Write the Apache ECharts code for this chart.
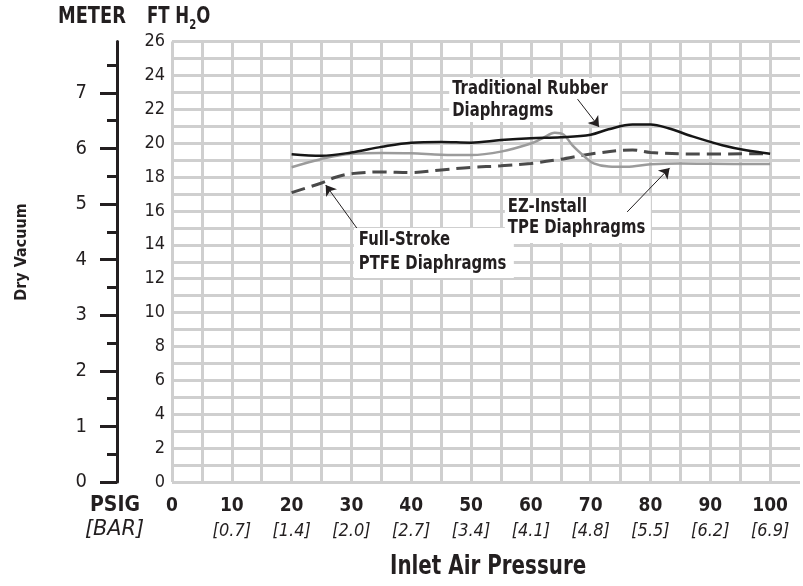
<!DOCTYPE html>
<html>
<head>
<meta charset="utf-8">
<script src="https://cdn.jsdelivr.net/npm/echarts@6/dist/echarts.min.js"></script>
<style>
html,body{margin:0;padding:0;background:#fff;}
#c{width:803px;height:586px;}
</style>
</head>
<body>
<div id="c"></div>
<script>
// ---- data (psig, ft H2O) ----
const psigTicks = [0,10,20,30,40,50,60,70,80,90,100];
const barLabels = ['', '[0.7]','[1.4]','[2.0]','[2.7]','[3.4]','[4.1]','[4.8]','[5.5]','[6.2]','[6.9]'];
const ftTicks = [0,2,4,6,8,10,12,14,16,18,20,22,24,26];
const meterTicks = [0,1,2,3,4,5,6,7];
const meterMinorTicks = [0.5,1.5,2.5,3.5,4.5,5.5,6.5,7.5];

const rubberX = [20,25,30,35,40,45,50,55,60,65,70,73,77,80,83,87,92,96,100];
const rubberY = [19.35,19.25,19.45,19.78,20.03,20.07,20.03,20.18,20.29,20.35,20.5,20.82,21.1,21.1,20.88,20.4,19.88,19.58,19.38];

const tpeX = [20,25,30,35,40,45,50,55,60,62,64,65.5,67,69,70.5,73,76,80,85,90,100];
const tpeY = [18.58,19.07,19.38,19.42,19.4,19.32,19.3,19.5,19.98,20.3,20.62,20.5,19.85,19.2,18.81,18.62,18.6,18.75,18.8,18.78,18.77];

const ptfeX = [20,25,27.5,30,35,40,45,50,55,60,65,70,77,80,87,100];
const ptfeY = [17.08,17.65,18.0,18.2,18.3,18.26,18.42,18.57,18.66,18.8,19.05,19.36,19.6,19.45,19.36,19.38];

// annotation texts and anchors (data space: top-left of the white box)
const noteTexts = ['Traditional Rubber\nDiaphragms', 'Full-Stroke\nPTFE Diaphragms', 'EZ-Install\nTPE Diaphragms'];
const noteAnchors = [[46.35,23.85],[30.4,14.99],[55.65,16.88]];
// arrows (data space: tail, head)
const arrowRubber = [[67.8,22.6],[71.4,20.96]];
const arrowPtfe = [[30.9,14.99],[25.7,17.53]];
const arrowTpe = [[76.1,15.94],[83.2,18.54]];

const FT_PER_M = 3.28084;
const NARROW = "'Liberation Sans Narrow','DejaVu Sans Condensed','Roboto Condensed',sans-serif";
const INK = '#231f20';
const GRID = '#cfcfcf';

// box styling for notes (pixels): [boxW, boxH, textDx, lineHeight]
const noteBoxes = [[171,44,3,22],[160,50,5,24],[146,47,3,21.5]];

function zip(xs, ys){ return xs.map((x,i)=>[x, ys[i]]); }
function arrowLine(a){ return [{coord: a[0]}, {coord: a[1]}]; }

// vertical grid lines: 0..105 every 5; the one at the clipped right edge is hidden
const vColors = [];
for (let i = 0; i < 21; i++) vColors.push(GRID);
vColors.push('rgba(0,0,0,0)');

const chart = echarts.init(document.getElementById('c'), null, {renderer:'canvas'});
chart.setOption({
  animation: false,
  backgroundColor: '#fff',
  grid: {left: 172, top: 41.5, height: 440.5, right: 0, containLabel: false},
  xAxis: {
    type: 'value', min: 0, max: 105, interval: 5,
    axisLine: {show: false}, axisTick: {show: false},
    splitLine: {show: true, lineStyle: {color: vColors, width: 3}},
    axisLabel: {
      margin: 12,
      formatter: function(v){
        const i = psigTicks.indexOf(v);
        if (i < 0) return '';
        return '{a|' + v + '}\n{b|' + (barLabels[i] || ' ') + '}';
      },
      rich: {
        a: {fontFamily: NARROW, fontWeight: 'bold', fontSize: 19, color: INK, lineHeight: 25},
        b: {fontFamily: NARROW, fontStyle: 'italic', fontSize: 18, color: INK, lineHeight: 25}
      }
    }
  },
  yAxis: [
    {
      type: 'value', min: 0, max: 26, interval: 1,
      axisLine: {show: false}, axisTick: {show: false},
      splitLine: {show: true, lineStyle: {color: GRID, width: 3}},
      axisLabel: {
        margin: 7, color: INK, fontFamily: NARROW, fontSize: 18,
        formatter: v => ftTicks.indexOf(v) >= 0 ? String(v) : ''
      }
    },
    {
      type: 'value', position: 'left', offset: 55, min: 0, max: 26 / FT_PER_M,
      axisLine: {show: true, onZero: false, lineStyle: {color: INK, width: 3}},
      axisTick: {show: true, length: 17, customValues: meterTicks, lineStyle: {color: INK, width: 3}},
      splitLine: {show: false},
      axisLabel: {show: true, customValues: meterTicks, margin: 30, color: INK, fontFamily: NARROW, fontSize: 20}
    },
    {
      type: 'value', position: 'left', offset: 55, min: 0, max: 26 / FT_PER_M,
      axisLine: {show: false},
      axisTick: {show: true, length: 10, customValues: meterMinorTicks, lineStyle: {color: INK, width: 3}},
      splitLine: {show: false},
      axisLabel: {show: false}
    }
  ],
  series: [
    {
      name: 'Traditional Rubber Diaphragms', type: 'line', smooth: 0.35, showSymbol: false, symbol: 'none',
      data: zip(rubberX, rubberY), z: 5,
      lineStyle: {color: '#161616', width: 2.5},
      markLine: {
        silent: true, symbol: ['none','arrow'], symbolSize: 10,
        lineStyle: {color: INK, width: 1, type: 'solid'}, label: {show: false},
        data: [arrowLine(arrowRubber), arrowLine(arrowPtfe), arrowLine(arrowTpe)]
      }
    },
    {
      name: 'EZ-Install TPE Diaphragms', type: 'line', smooth: 0.35, showSymbol: false, symbol: 'none',
      data: zip(tpeX, tpeY), z: 4,
      lineStyle: {color: '#9b9b9b', width: 2.5}
    },
    {
      name: 'Full-Stroke PTFE Diaphragms', type: 'line', smooth: 0.35, showSymbol: false, symbol: 'none',
      data: zip(ptfeX, ptfeY), z: 3,
      lineStyle: {color: '#4a4a4a', width: 3, type: [14, 7]}
    }
  ]
});

// headings + annotation boxes
const graphics = [
  {type: 'text', x: 58, y: 6, scaleX: 0.86, style: {text: 'METER', fill: INK, font: "bold 23px " + NARROW}},
  {type: 'text', x: 147, y: 6, scaleX: 0.8, style: {
    text: '{a|FT H}{s|2}{a|O}', fill: INK,
    rich: {
      a: {fontFamily: NARROW, fontWeight: 'bold', fontSize: 23, fill: INK, verticalAlign: 'top'},
      s: {fontFamily: NARROW, fontWeight: 'bold', fontSize: 14, fill: INK, padding: [12,0,0,0], verticalAlign: 'top'}
    }
  }},
  {type: 'text', x: 90, y: 495, style: {text: 'PSIG', fill: INK, font: "bold 21px " + NARROW}},
  {type: 'text', x: 85, y: 519, scaleX: 1.1, style: {text: '[BAR]', fill: INK, font: "italic 21px " + NARROW}},
  {type: 'text', x: 390, y: 567, scaleX: 0.85, style: {text: 'Inlet Air Pressure', fill: INK, font: "bold 26px " + NARROW, align: 'left', verticalAlign: 'middle'}},
  {type: 'text', x: 22, y: 252, rotation: Math.PI / 2, style: {text: 'Dry Vacuum', fill: INK, font: "bold 16px " + NARROW, align: 'center', verticalAlign: 'middle'}}
];
noteTexts.forEach(function(t, i){
  const p = chart.convertToPixel({xAxisIndex: 0, yAxisIndex: 0}, noteAnchors[i]);
  const b = noteBoxes[i];
  graphics.push({type: 'rect', x: p[0], y: p[1], z: 1, shape: {width: b[0], height: b[1]}, style: {fill: '#fff'}});
  graphics.push({type: 'text', x: p[0] + b[2], y: p[1], z: 1, scaleX: 0.87,
    style: {text: t, fill: INK, font: "bold 19px " + NARROW, lineHeight: b[3], align: 'left', verticalAlign: 'top'}});
});
chart.setOption({graphic: graphics});
</script>
</body>
</html>
